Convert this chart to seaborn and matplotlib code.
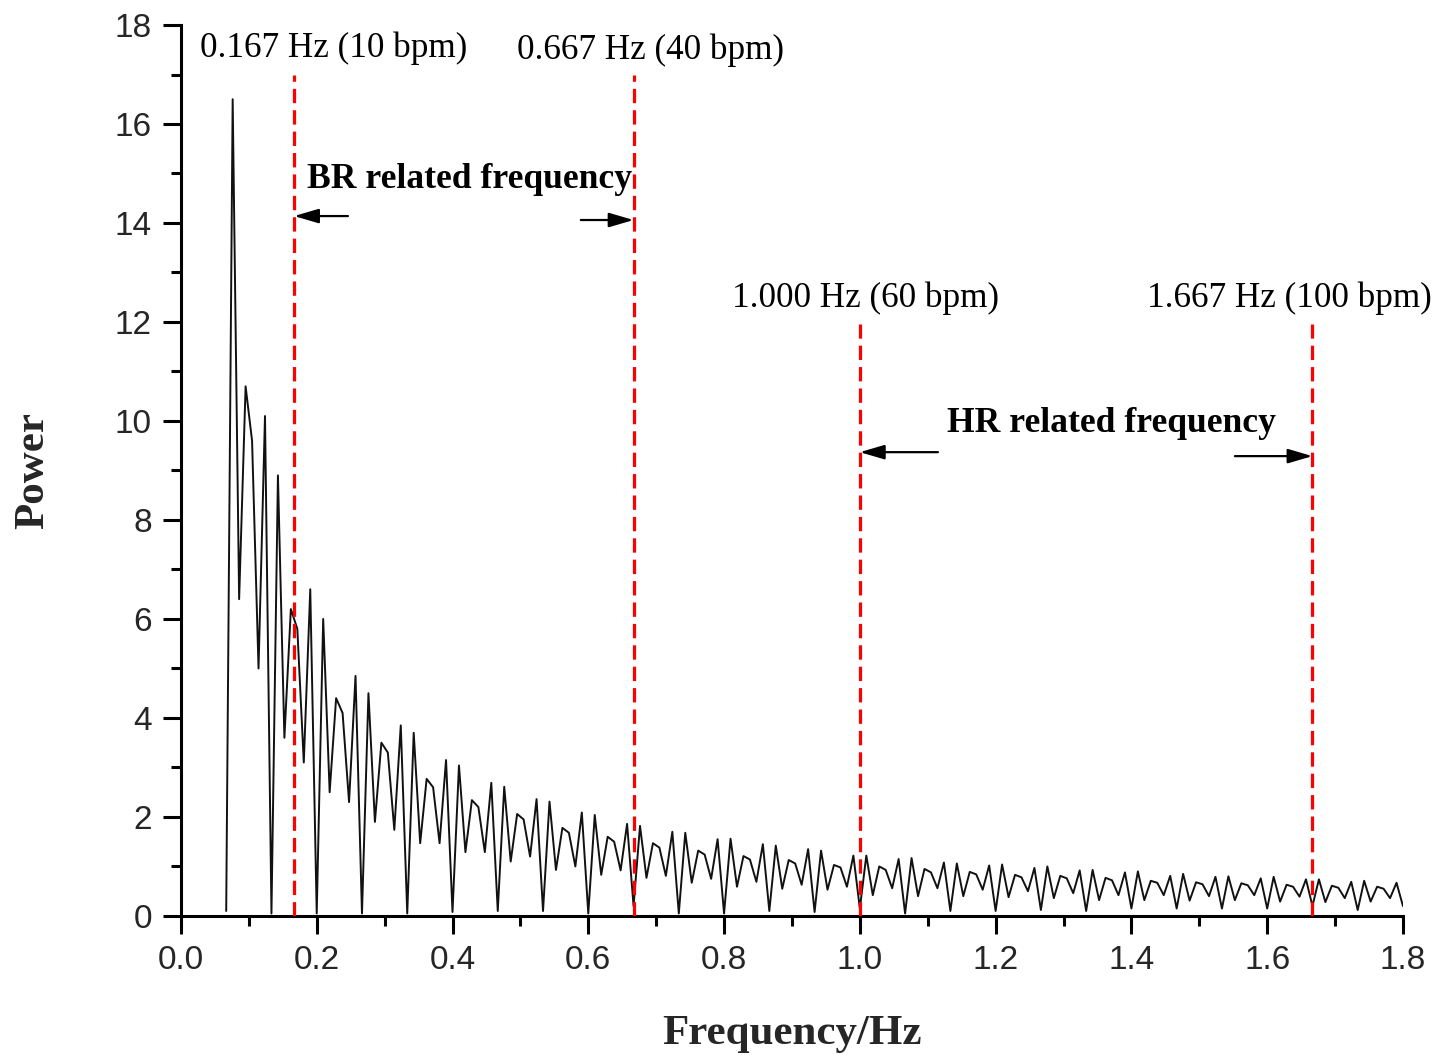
import numpy as np
import matplotlib
matplotlib.use("Agg")
import matplotlib.pyplot as plt
import seaborn as sns

# Frequency grid: uniform bins of 1/105 Hz, from bin 7 (0.0667 Hz) to bin 189 (1.8 Hz)
bin_first = 7
bin_last = 189
bins_per_hz = 105.0

# Power spectrum values (7 samples per 1/15 Hz lobe group)
power = [
    0.10, 16.50, 6.40, 10.70, 9.60, 5.00, 10.10,
    0.05, 8.90, 3.60, 6.20, 5.80, 3.10, 6.60,
    0.05, 6.00, 2.50, 4.40, 4.10, 2.30, 4.85,
    0.05, 4.50, 1.90, 3.50, 3.30, 1.74, 3.85,
    0.05, 3.70, 1.47, 2.77, 2.60, 1.47, 3.15,
    0.08, 3.04, 1.29, 2.34, 2.20, 1.29, 2.69,
    0.10, 2.61, 1.10, 2.06, 1.95, 1.20, 2.36,
    0.10, 2.31, 0.93, 1.78, 1.68, 1.00, 2.09,
    0.05, 2.04, 0.83, 1.60, 1.50, 0.92, 1.86,
    0.20, 1.82, 0.77, 1.47, 1.38, 0.81, 1.70,
    0.05, 1.68, 0.67, 1.32, 1.24, 0.75, 1.55,
    0.05, 1.56, 0.59, 1.21, 1.14, 0.69, 1.45,
    0.10, 1.42, 0.55, 1.13, 1.06, 0.63, 1.35,
    0.08, 1.32, 0.53, 1.03, 0.98, 0.59, 1.22,
    0.15, 1.22, 0.42, 1.00, 0.93, 0.56, 1.15,
    0.05, 1.17, 0.40, 0.95, 0.88, 0.56, 1.08,
    0.10, 1.06, 0.40, 0.89, 0.84, 0.53, 1.02,
    0.10, 1.04, 0.38, 0.83, 0.78, 0.50, 0.97,
    0.12, 1.00, 0.36, 0.81, 0.76, 0.46, 0.92,
    0.10, 0.93, 0.32, 0.77, 0.72, 0.42, 0.88,
    0.15, 0.90, 0.32, 0.71, 0.67, 0.42, 0.81,
    0.15, 0.85, 0.31, 0.68, 0.64, 0.40, 0.79,
    0.15, 0.80, 0.32, 0.66, 0.62, 0.42, 0.76,
    0.15, 0.79, 0.29, 0.63, 0.59, 0.39, 0.74,
    0.20, 0.74, 0.28, 0.61, 0.57, 0.36, 0.69,
    0.12, 0.71, 0.29, 0.59, 0.55, 0.36, 0.67,
    0.20,
]
freq = np.arange(bin_first, bin_last + 1) / bins_per_hz

# Reference frequency markers
marker_freqs = [1 / 6, 2 / 3, 1.0, 5 / 3]
marker_tops = [17.0, 17.0, 11.95, 11.95]
marker_labels = ["0.167 Hz (10 bpm)", "0.667 Hz (40 bpm)",
                 "1.000 Hz (60 bpm)", "1.667 Hz (100 bpm)"]
band_labels = ["BR related frequency", "HR related frequency"]

x_ticks = [0.0, 0.2, 0.4, 0.6, 0.8, 1.0, 1.2, 1.4, 1.6, 1.8]
y_ticks = [0, 2, 4, 6, 8, 10, 12, 14, 16, 18]

sns.set_style("ticks")
plt.rcParams["font.family"] = ["Liberation Sans", "DejaVu Sans"]

fig = plt.figure(figsize=(14.51, 10.55), dpi=100)
ax = fig.add_axes([0.1247, 0.1318, 0.8422, 0.8445])

sns.lineplot(x=freq, y=power, ax=ax, color="#111111", linewidth=1.4,
             sort=False, estimator=None)

for f, top in zip(marker_freqs, marker_tops):
    ax.vlines(f, 0, top, colors="#ff0000", linestyles=(0, (4.5, 2.2)),
              linewidth=2.3, zorder=3)

serif = ["Liberation Serif", "DejaVu Serif"]
label_pos = [(0.028, 17.54), (0.495, 17.50), (0.8116, 12.48), (1.423, 12.48)]
for (lx, ly), txt in zip(label_pos, marker_labels):
    ax.text(lx, ly, txt, family=serif, fontsize=25.3, ha="left",
            va="center", color="black", clip_on=False)

band_pos = [(0.1856, 14.87), (1.128, 9.94)]
for (bx, by), txt in zip(band_pos, band_labels):
    ax.text(bx, by, txt, family=serif, fontsize=25.6, fontweight="bold",
            ha="left", va="center", color="black", clip_on=False)

arrows = [((0.246, 14.14), (marker_freqs[0], 14.14)),
          ((0.589, 14.06), (marker_freqs[1], 14.06)),
          ((1.115, 9.37), (marker_freqs[2], 9.37)),
          ((1.5525, 9.29), (marker_freqs[3], 9.29))]
for start, end in arrows:
    ax.annotate("", xy=end, xytext=start,
                arrowprops=dict(arrowstyle="-|>,head_length=0.75,head_width=0.22",
                                color="black", lw=1.6, mutation_scale=20,
                                shrinkA=0, shrinkB=0))

ax.set_xlim(0, 1.8)
ax.set_ylim(0, 18)
ax.set_xticks(x_ticks)
ax.set_xticklabels([f"{v:.1f}" for v in x_ticks])
ax.set_yticks(y_ticks)
ax.set_yticklabels([str(v) for v in y_ticks])
ax.set_xticks(np.arange(0.1, 1.8, 0.2), minor=True)
ax.set_yticks(np.arange(1, 18, 2), minor=True)

ax.tick_params(axis="both", which="major", direction="out", length=13,
               width=2.2, labelsize=24, pad=8, color="black")
ax.tick_params(axis="both", which="minor", direction="out", length=7,
               width=2.2, color="black")

for side in ["top", "right"]:
    ax.spines[side].set_visible(False)
for side in ["left", "bottom"]:
    ax.spines[side].set_linewidth(2.2)
    ax.spines[side].set_color("black")

ax.set_xlabel("Frequency/Hz", family=serif, fontsize=31, fontweight="bold",
              labelpad=28)
ax.set_ylabel("Power", family=serif, fontsize=31, fontweight="bold",
              labelpad=45)

fig.savefig("out.png", dpi=100)
